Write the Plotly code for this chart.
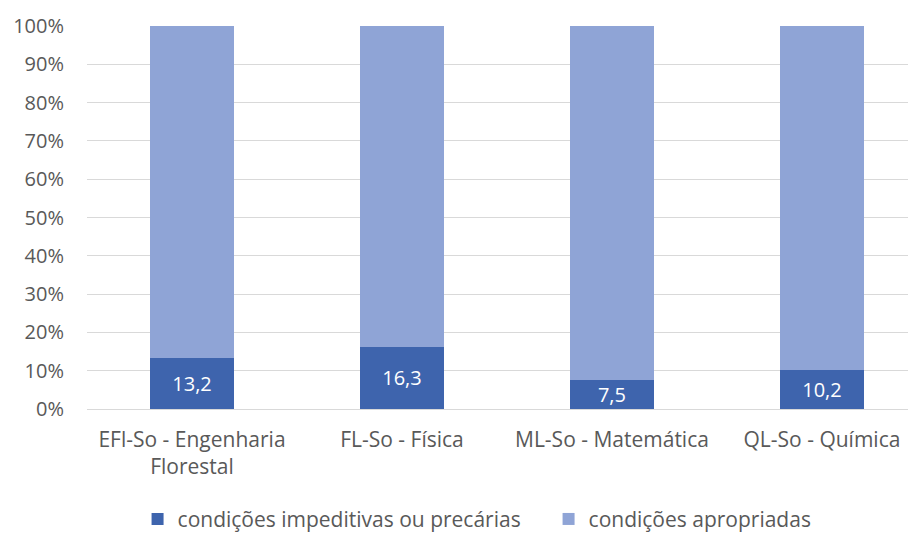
import plotly.graph_objects as go

categories = ["EFl-So - Engenharia<br>Florestal", "FL-So - Física", "ML-So - Matemática", "QL-So - Química"]
impeditivas = [13.2, 16.3, 7.5, 10.2]
apropriadas = [86.8, 83.7, 92.5, 89.8]
series_names = ["condições impeditivas ou precárias", "condições apropriadas"]
y_ticks = [0, 10, 20, 30, 40, 50, 60, 70, 80, 90, 100]
y_tick_labels = [f"{v}%" for v in y_ticks]

FONT = "Open Sans"
SIZE = 20
x = list(range(len(categories)))

fig = go.Figure()
fig.add_trace(go.Bar(
    x=x, y=impeditivas, name=series_names[0],
    marker=dict(color="#3E64AD", line=dict(width=0)),
    texttemplate="%{y:.1f}", textposition="inside", insidetextanchor="middle",
    textfont=dict(color="white", size=SIZE, family=FONT),
    constraintext="none",
))
fig.add_trace(go.Bar(
    x=x, y=apropriadas, name=series_names[1],
    marker=dict(color="#8FA4D6", line=dict(width=0)),
    hoverinfo="y",
))

# page body has an 8px default margin, so the figure is 8px smaller and margins shifted
fig.update_layout(
    barmode="stack",
    bargap=0.6,
    separators=",.",
    width=908, height=526,
    margin=dict(l=79, r=0, t=18, b=125, autoexpand=False),
    paper_bgcolor="white", plot_bgcolor="white",
    font=dict(family=FONT, size=SIZE, color="#595959"),
    uniformtext=dict(minsize=SIZE, mode="show"),
    legend=dict(orientation="h", x=0.061, xanchor="left", y=-0.288, yanchor="middle",
                font=dict(size=21, color="#595959", family=FONT),
                traceorder="normal", itemwidth=30,
                entrywidth=366, entrywidthmode="pixels"),
    xaxis=dict(tickmode="array", tickvals=x, ticktext=categories,
               range=[-0.5, 3.448], showgrid=False, zeroline=False,
               showline=False, ticks="", tickfont=dict(size=21, color="#595959")),
    yaxis=dict(range=[0, 100], tickmode="array", tickvals=y_ticks, ticktext=y_tick_labels,
               showgrid=True, gridcolor="#D9D9D9", gridwidth=1,
               zeroline=True, zerolinecolor="#D9D9D9", zerolinewidth=1,
               showline=False, ticks="",
               tickfont=dict(size=SIZE, color="#595959")),
)
fig.update_yaxes(ticklabelstandoff=22)
fig.update_xaxes(ticklabelstandoff=16)

fig.write_html("out.html")
